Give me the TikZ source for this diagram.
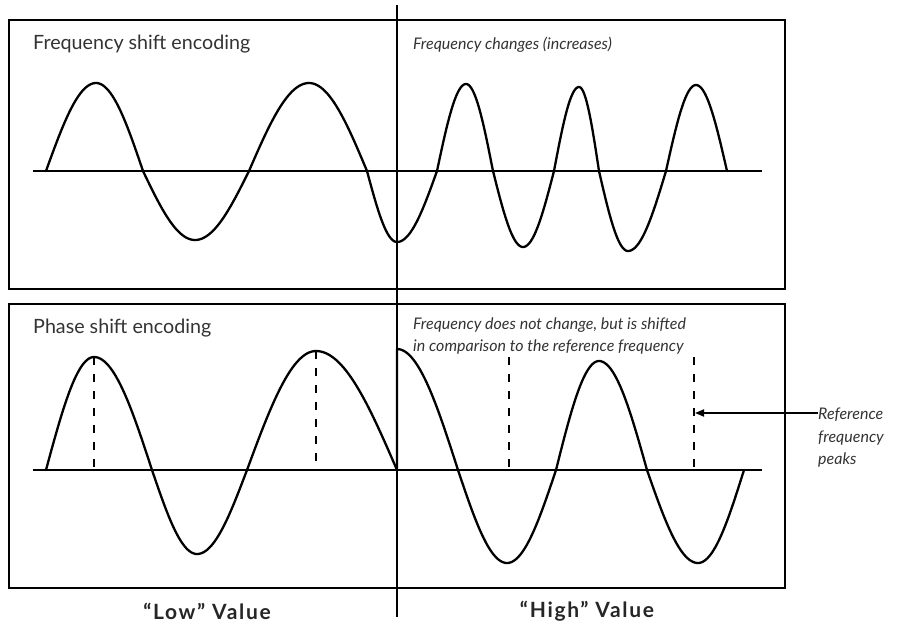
\documentclass[tikz,border=0pt]{standalone}
\usepackage{fontspec}
\setmainfont{Lato}
\usetikzlibrary{arrows.meta}
\definecolor{inkgray}{HTML}{333333}
\tikzset{
  panel/.style={line width=2.2pt},
  axis/.style={line width=1.6pt},
  wave/.style={line width=2.3pt,line cap=round,line join=round},
  peakline/.style={line width=2.4pt,dash pattern=on 8pt off 9pt},
  title/.style={anchor=west,inner sep=0pt,text=inkgray,font=\fontsize{19.7}{23}\selectfont},
  remark/.style={anchor=west,inner sep=0pt,text=inkgray,align=left,font=\fontsize{16}{22}\selectfont\itshape},
  valuelabel/.style={inner sep=0pt,text=black!85,font=\fontsize{21}{25}\selectfont\bfseries\addfontfeature{LetterSpace=8}}
}
\begin{document}
\begin{tikzpicture}[x=1pt,y=-1pt]
  \useasboundingbox (0,0) rectangle (898,625);
  % panels
  \draw[panel] (9,20) rectangle (785,289);
  \draw[panel] (9,304) rectangle (785,588);
  % divider between the two values
  \coordinate (divtop) at (397,5);
  \coordinate (divbot) at (397,617);
  \draw[line width=2.2pt] (divtop) -- (divbot);
  % axes
  \draw[axis] (33,171) -- (762,171);
  \draw[axis] (33,470) -- (762,470);
  % frequency shift wave: start/peak/end/amplitude
  \foreach \a/\p/\b/\A in {46/96/143/88, 143/195/249/-69, 249/309/367/88,
      367/397/437/-71, 437/466/493/87, 493/523/554/-76, 554/579/599/84,
      599/628/666/-80, 666/696/727/86}
    \draw[wave] plot[domain=0:90,samples=30] ({\a+(\p-\a)*\x/90},{171-\A*sin(\x)})
      -- plot[domain=90:180,samples=30] ({\p+(\b-\p)*(\x-90)/90},{171-\A*sin(\x)});
  % phase shift wave
  \foreach \a/\p/\b/\A in {46/94/152/113, 152/197/247/-84, 247/316/397/119,
      397/397/458/121, 458/507/556/-93, 556/599/647/109, 647/698/744/-93}
    \draw[wave] plot[domain=0:90,samples=30] ({\a+(\p-\a)*\x/90},{470-\A*sin(\x)})
      -- plot[domain=90:180,samples=30] ({\p+(\b-\p)*(\x-90)/90},{470-\A*sin(\x)});
  % reference peaks
  \draw[peakline] (94,357) -- (94,470);
  \draw[peakline] (316,351) -- (316,470);
  \draw[peakline] (509,357) -- (509,470);
  \draw[peakline] (694,357) -- (694,470);
  % labels
  \node[title] (freqtitle) at (33,44) {Frequency shift encoding};
  \node[title] (phasetitle) at (33,328) {Phase shift encoding};
  \node[remark] (freqnote) at (413,45) {Frequency changes (increases)};
  \node[remark] (phasenote) at (413,336) {Frequency does not change, but is shifted\\in comparison to the reference frequency};
  \node[remark,font=\fontsize{16}{22.5}\selectfont\itshape] (refnote) at (818,438) {Reference\\frequency\\peaks};
  \coordinate (refpeak) at (695,413);
  \draw[line width=1.8pt,-{Triangle[length=9pt,width=7pt]}] (refnote.west|-810,413) -- (refpeak);
  \node[valuelabel] (lowval) at (207,611) {“Low” Value};
  \node[valuelabel] (highval) at (587,611) {“High” Value};
\end{tikzpicture}
\end{document}
